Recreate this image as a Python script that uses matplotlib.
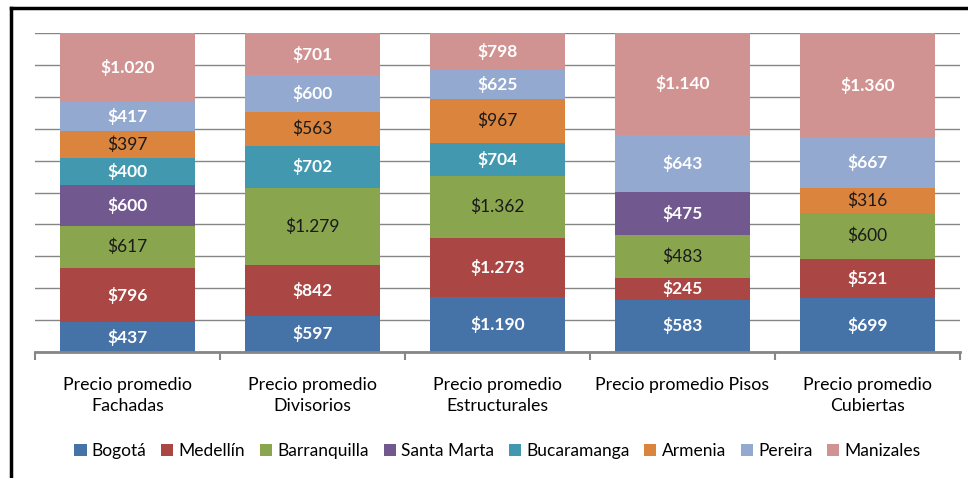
import numpy as np
import matplotlib
matplotlib.use("Agg")
import matplotlib.pyplot as plt
from matplotlib.lines import Line2D

categories = ["Precio promedio\nFachadas", "Precio promedio\nDivisorios",
              "Precio promedio\nEstructurales", "Precio promedio Pisos",
              "Precio promedio\nCubiertas"]
cities = ["Bogotá", "Medellín", "Barranquilla", "Santa Marta",
          "Bucaramanga", "Armenia", "Pereira", "Manizales"]

bogota = [437, 597, 1190, 583, 699]
medellin = [796, 842, 1273, 245, 521]
barranquilla = [617, 1279, 1362, 483, 600]
santa_marta = [600, 0, 0, 475, 0]
bucaramanga = [400, 702, 704, 0, 0]
armenia = [397, 563, 967, 0, 316]
pereira = [417, 600, 625, 643, 667]
manizales = [1020, 701, 798, 1140, 1360]

series = [bogota, medellin, barranquilla, santa_marta,
          bucaramanga, armenia, pereira, manizales]
colors = ["#4572A7", "#AA4643", "#89A54E", "#71588F",
          "#4198AF", "#DB843D", "#93A9CF", "#D19392"]
dark_label = ["Barranquilla", "Armenia"]

plt.rcParams["font.family"] = ["Lato", "DejaVu Sans"]

fig = plt.figure(figsize=(9.68, 4.78), dpi=100)
ax = fig.add_axes([35 / 968, 1 - 352 / 478, 925 / 968, 319 / 478])

data = np.array(series, dtype=float)
totals = data.sum(axis=0)
pct = data / totals * 100
x = np.arange(len(categories))
bottom = np.zeros(len(categories))

for name, vals, p, c in zip(cities, series, pct, colors):
    ax.bar(x, p, bottom=bottom, width=0.73, color=c, label=name, zorder=2)
    for i in range(len(x)):
        if vals[i] == 0:
            continue
        txt = "$" + format(vals[i], ",").replace(",", ".")
        if name in dark_label:
            ax.text(x[i], bottom[i] + p[i] / 2, txt, ha="center", va="center",
                    fontsize=12.5, color="#1a1a1a", zorder=3)
        else:
            ax.text(x[i], bottom[i] + p[i] / 2, txt, ha="center", va="center",
                    fontsize=12.5, color="white", fontweight="bold", zorder=3)
    bottom += p

ax.set_xlim(-0.5, len(categories) - 0.5)
ax.set_ylim(0, 100)
ax.set_yticks(np.arange(0, 101, 10))
ax.yaxis.grid(True, color="#868686", linewidth=1)
ax.set_axisbelow(True)
ax.tick_params(axis="y", length=0, labelleft=False)

ax.set_xticks(x)
ax.set_xticklabels(categories, fontsize=12.8, linespacing=1.35)
ax.set_xticks(np.arange(-0.5, len(categories), 1), minor=True)
ax.tick_params(axis="x", which="major", length=0, pad=18)
ax.tick_params(axis="x", which="minor", length=6, width=1.5, color="#868686")

for s in ["top", "right", "left"]:
    ax.spines[s].set_visible(False)
ax.spines["bottom"].set_color("#868686")
ax.spines["bottom"].set_linewidth(2)

ax.legend(loc="center", bbox_to_anchor=(0.5, -0.31), ncol=8, frameon=False,
          fontsize=12.5, handlelength=0.7, handleheight=0.7, handletextpad=0.3,
          columnspacing=0.85)

# outer frame (left and top edges)
fig.add_artist(Line2D([11 / 968, 11 / 968], [0, 1 - 8 / 478], color="black",
                      linewidth=2.5, transform=fig.transFigure))
fig.add_artist(Line2D([11 / 968, 1], [1 - 8 / 478, 1 - 8 / 478], color="black",
                      linewidth=2.5, transform=fig.transFigure))

fig.savefig("out.png", dpi=100)
